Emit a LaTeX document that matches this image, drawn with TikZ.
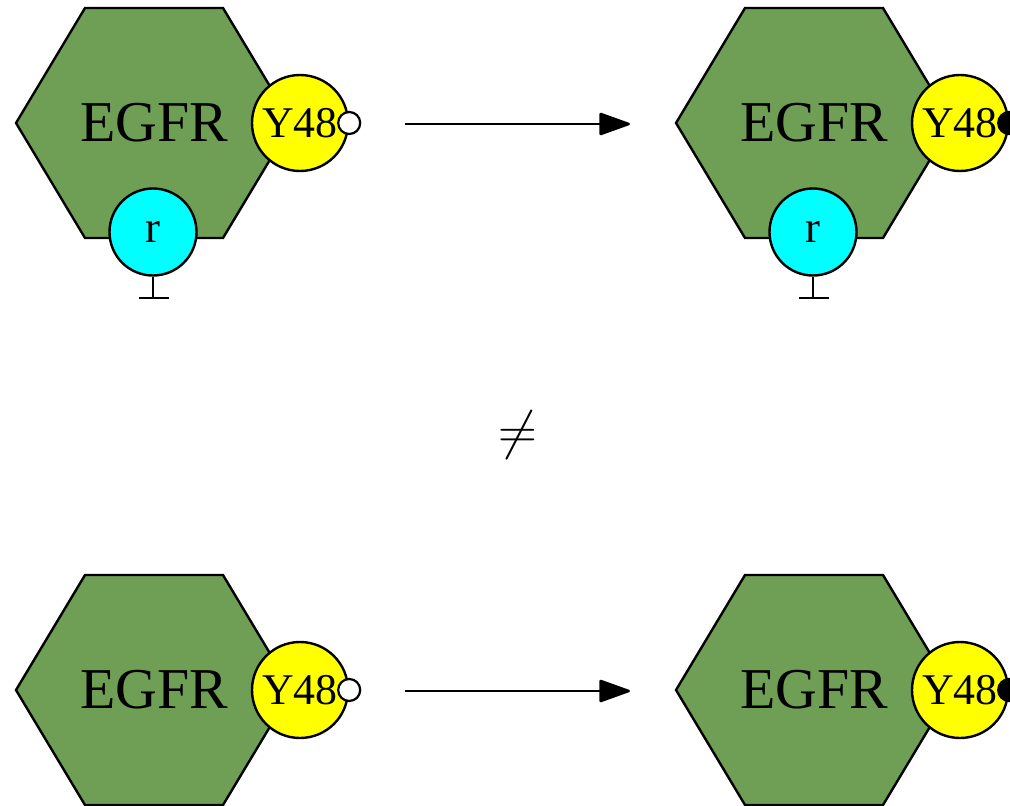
\RequirePackage{fix-cm}
\documentclass[tikz,border=0pt]{standalone}
\usepackage{fontspec}
\setmainfont{Liberation Serif}
\usetikzlibrary{arrows.meta}
\definecolor{egfrgreen}{RGB}{111,158,85}
\definecolor{siteyellow}{RGB}{255,255,0}
\definecolor{regcyan}{RGB}{0,255,255}
\tikzset{
  hexbox/.style={fill=egfrgreen, draw=black, line width=2.4bp, line join=miter},
  protlabel/.style={font=\fontsize{58}{58}\selectfont, inner sep=0pt},
  sitebox/.style={circle, draw=black, line width=2.4bp, fill=siteyellow, minimum size=96bp, inner sep=0pt, font=\fontsize{44}{44}\selectfont},
  regbox/.style={circle, draw=black, line width=2.4bp, fill=regcyan, minimum size=87bp, inner sep=0pt, font=\fontsize{45}{45}\selectfont},
  freedot/.style={circle, draw=black, line width=2.2bp, minimum size=22bp, inner sep=0pt, fill=white},
  fulldot/.style={circle, draw=black, line width=2.2bp, minimum size=22bp, inner sep=0pt, fill=black},
  stem/.style={draw=black, line width=2.4bp},
  conv/.style={draw=black, line width=2.4bp, -{Triangle[length=33bp,width=23bp,round]}},
  relsign/.style={inner sep=0pt, font=\fontsize{54}{54}\selectfont},
}
\newcommand\drawhex[3]{%
  \draw[hexbox] (#2-138,#3) -- (#2-69,#3-115) -- (#2+69,#3-115) -- (#2+138,#3) -- (#2+69,#3+115) -- (#2-69,#3+115) -- cycle;
  \node[protlabel] (egfr#1) at (#2,#3) {EGFR};
}
\begin{document}
\begin{tikzpicture}[x=1bp,y=-1bp]
\useasboundingbox (0,0) rectangle (1010,806);
\clip (0,0) rectangle (1010,806);

% top-left
\drawhex{A}{154}{123}
\node[regbox] (rA) at (153,232) {r};
\coordinate (stA) at (153,298);
\coordinate (blA) at (139,298);
\coordinate (brA) at (169,298);
\draw[stem] (rA.south) -- (stA);
\draw[stem] (blA) -- (brA);
\node[sitebox] (yA) at (300,123) {Y48};
\node[freedot] (dA) at (yA.east) {};

% top-right
\drawhex{B}{814}{123}
\node[regbox] (rB) at (813,232) {r};
\coordinate (stB) at (813,298);
\coordinate (blB) at (799,298);
\coordinate (brB) at (829,298);
\draw[stem] (rB.south) -- (stB);
\draw[stem] (blB) -- (brB);
\node[sitebox] (yB) at (960,123) {Y48};
\node[fulldot] (dB) at (yB.east) {};

% bottom-left
\drawhex{C}{154}{690}
\node[sitebox] (yC) at (300,690) {Y48};
\node[freedot] (dC) at (yC.east) {};

% bottom-right
\drawhex{D}{814}{690}
\node[sitebox] (yD) at (960,690) {Y48};
\node[fulldot] (dD) at (yD.east) {};

% arrows
\coordinate (a1s) at (405,124);
\coordinate (a1e) at (630,124);
\draw[conv] (a1s) -- (a1e);
\coordinate (a2s) at (405,691);
\coordinate (a2e) at (630,691);
\draw[conv] (a2s) -- (a2e);

% not equal
\node[relsign] (neq) at (518,435) {$\neq$};
\end{tikzpicture}
\end{document}
